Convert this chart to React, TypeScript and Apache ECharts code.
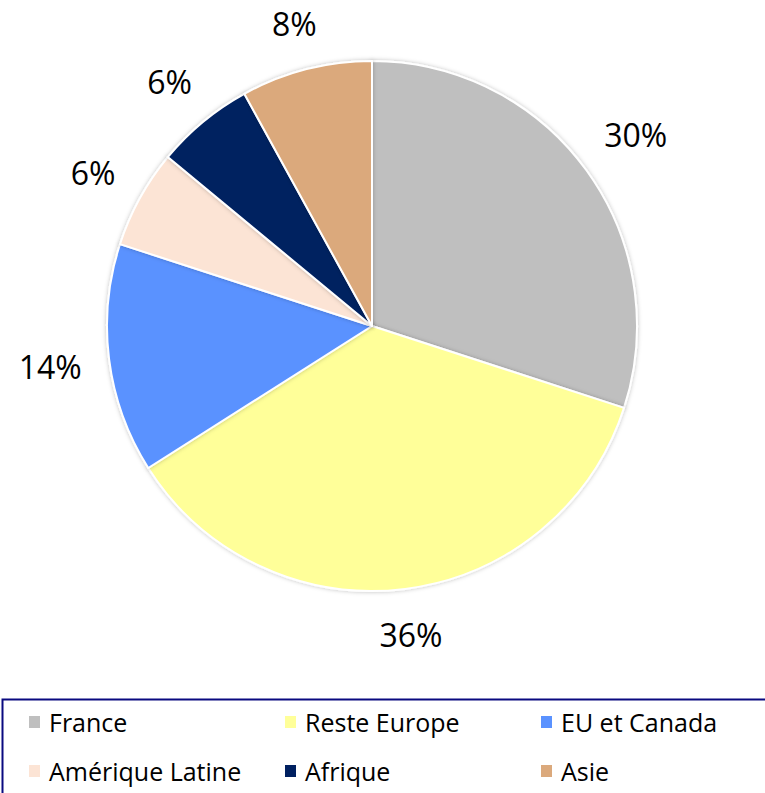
import React, { useEffect, useRef } from "react";
import * as echarts from "echarts";

const categories = ["France", "Reste Europe", "EU et Canada", "Amérique Latine", "Afrique", "Asie"];
const values = [30, 36, 14, 6, 6, 8];
const colors = ["#BFBFBF", "#FFFF99", "#5A92FF", "#FCE4D5", "#002060", "#DBA97C"];
const legendRow1 = ["France", "Reste Europe", "EU et Canada"];
const legendRow2 = ["Amérique Latine", "Afrique", "Asie"];

const CX = 372;
const CY = 326;
const R = 265;
const GAP = 26;
const FONT = "'Open Sans', 'Noto Sans', sans-serif";

export default function App() {
  const ref = useRef<HTMLDivElement>(null);
  useEffect(() => {
    if (!ref.current) return;
    const chart = echarts.init(ref.current, undefined, { renderer: "svg" });
    const total = values.reduce((a, b) => a + b, 0);
    const cum: number[] = [];
    values.reduce((acc, v, i) => {
      cum[i] = acc;
      return acc + v;
    }, 0);
    const legendCommon = {
      orient: "horizontal" as const,
      left: 27,
      width: 800,
      itemWidth: 13,
      itemHeight: 14,
      itemGap: 10,
      icon: "rect",
      padding: 0,
      textStyle: {
        fontFamily: FONT,
        fontSize: 25,
        color: "#000",
        width: 224,
        lineHeight: 28,
        padding: [0, 0, 0, 3],
      },
    };
    chart.setOption({
      animation: false,
      backgroundColor: "#fff",
      color: colors,
      graphic: [
        {
          type: "rect",
          left: 0,
          top: 697,
          shape: { width: 800, height: 140 },
          style: { fill: "none", stroke: "#0A0A80", lineWidth: 2 },
          silent: true,
        },
      ],
      legend: [
        { ...legendCommon, data: legendRow1, top: 708 },
        { ...legendCommon, data: legendRow2, top: 757 },
      ],
      series: [
        {
          type: "pie",
          center: [CX, CY],
          radius: R,
          startAngle: 90,
          clockwise: true,
          avoidLabelOverlap: false,
          itemStyle: {
            borderColor: "#fff",
            borderWidth: 2,
            shadowBlur: 4,
            shadowColor: "rgba(0,0,0,0.25)",
          },
          label: {
            show: true,
            position: "outside",
            formatter: (p: any) => p.value + "%",
            fontFamily: FONT,
            fontSize: 32,
            color: "#000",
          },
          labelLine: { show: false },
          labelLayout: (params: any) => {
            const i = params.dataIndex;
            const frac = (cum[i] + values[i] / 2) / total;
            const th = frac * Math.PI * 2;
            const s = Math.sin(th);
            const c = Math.cos(th);
            const w = params.labelRect.width;
            const h = params.labelRect.height;
            const ext = Math.abs(s) * w / 2 + Math.abs(c) * h / 2;
            const d = R + GAP + ext;
            return {
              x: CX + d * s,
              y: CY - d * c,
              align: "center",
              verticalAlign: "middle",
            };
          },
          data: categories.map((name, i) => ({ name, value: values[i] })),
        },
      ],
    });
    return () => chart.dispose();
  }, []);
  return (
    <div
      ref={ref}
      style={{ position: "fixed", left: 0, top: 0, width: 765, height: 793 }}
    />
  );
}
